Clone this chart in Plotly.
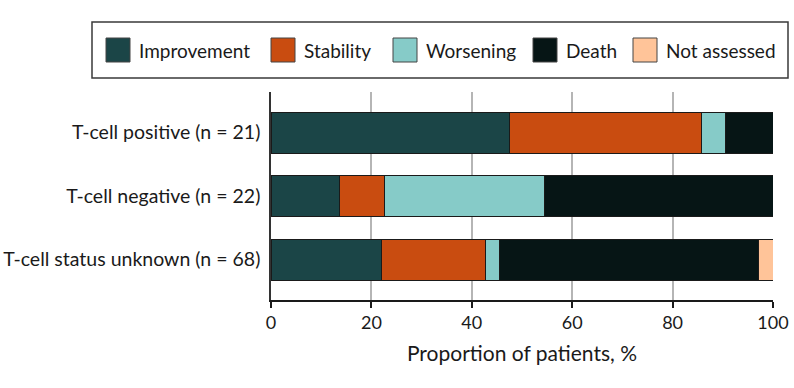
import plotly.graph_objects as go

groups = ["T-cell positive (n = 21)", "T-cell negative (n = 22)", "T-cell status unknown (n = 68)"]
outcomes = ["Improvement", "Stability", "Worsening", "Death", "Not assessed"]
colors = ["#1B4547", "#C94C10", "#86CBC8", "#061515", "#FFC499"]
# percentage of patients per group, per outcome
improvement = [47.6, 13.6, 22.1]
stability = [38.1, 9.1, 20.6]
worsening = [4.8, 31.8, 2.9]
death = [9.5, 45.5, 51.5]
not_assessed = [0.0, 0.0, 2.9]
series = [improvement, stability, worsening, death, not_assessed]
xticks = [0, 20, 40, 60, 80, 100]

FONT = "Lato"
TXT = "#1a1a1a"
W, H = 794, 388
L, R, T, B = 271, 21, 92, 88
PW, PH = W - L - R, H - T - B


def px(x):
    return (x - L) / PW


def py(y):
    return (H - B - y) / PH


fig = go.Figure()
for name, vals, col in zip(outcomes, series, colors):
    fig.add_trace(go.Bar(
        y=groups, x=vals, name=name, orientation="h",
        marker=dict(color=col, line=dict(color="#1a1a1a", width=1)),
        showlegend=False,
    ))

# manual legend (box, swatches, labels)
shapes = [dict(type="rect", xref="paper", yref="paper",
               x0=px(92), x1=px(788), y0=py(78), y1=py(22),
               line=dict(color="#3a3a3a", width=1.5), fillcolor="white", layer="above")]
annotations = []
sw_left = [106, 271, 393, 533, 633]
for name, col, x0 in zip(outcomes, colors, sw_left):
    shapes.append(dict(type="rect", xref="paper", yref="paper",
                       x0=px(x0), x1=px(x0 + 24), y0=py(62), y1=py(38),
                       line=dict(color="#444444", width=1), fillcolor=col, layer="above"))
    annotations.append(dict(xref="paper", yref="paper", x=px(x0 + 31), y=py(50),
                            xanchor="left", yanchor="middle", text=name, showarrow=False,
                            font=dict(family=FONT, size=19, color=TXT)))

fig.update_layout(
    barmode="stack",
    bargap=0.355,
    width=W, height=H,
    margin=dict(l=L, r=R, t=T, b=B),
    plot_bgcolor="white", paper_bgcolor="white",
    font=dict(family=FONT, size=19, color=TXT),
    showlegend=False,
    shapes=shapes,
    annotations=annotations,
    xaxis=dict(
        range=[0, 100], tickvals=xticks, showgrid=True, gridcolor="#b5b5b5", gridwidth=2,
        zeroline=False, showline=True, linecolor="#1a1a1a", linewidth=1.5,
        ticks="outside", ticklen=6, tickcolor="#1a1a1a", tickwidth=1.5,
        tickfont=dict(size=18), automargin=False,
        title=dict(text="Proportion of patients, %", font=dict(size=21), standoff=14),
    ),
    yaxis=dict(
        categoryorder="array", categoryarray=groups[::-1],
        range=[-0.635, 2.64], showgrid=False, showline=True, linecolor="#333333", linewidth=1.5,
        zeroline=False, ticks="", ticksuffix=" ", tickfont=dict(size=19.5), automargin=False,
    ),
)
fig.write_html("out.html")
